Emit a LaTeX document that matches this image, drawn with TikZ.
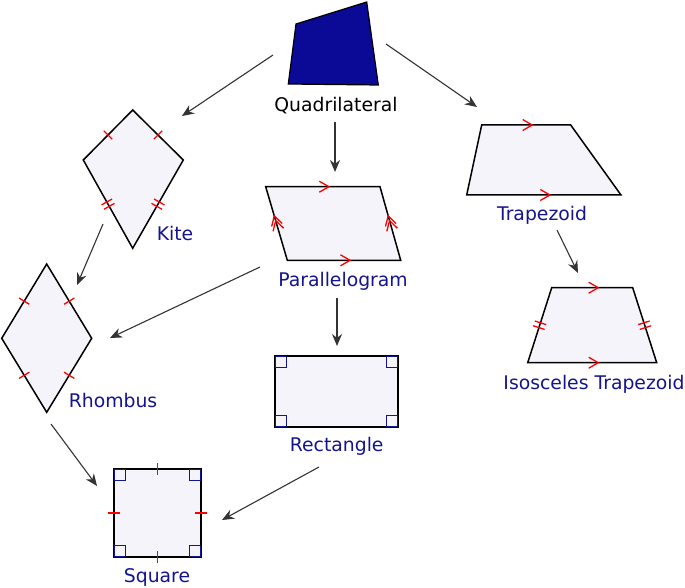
\documentclass[tikz,border=0pt]{standalone}
\usepackage{fontspec}
\setmainfont{DejaVu Sans}
\usetikzlibrary{calc,arrows.meta}

\definecolor{shapefill}{HTML}{F4F4FA}
\definecolor{quadblue}{HTML}{0A0A96}
\definecolor{labelblue}{HTML}{14148F}
\definecolor{arrowgray}{HTML}{333333}

\tikzset{
  shp/.style={draw=black,line width=1.5pt,fill=shapefill},
  lbl/.style={font=\fontsize{18.8}{22}\selectfont,text=labelblue,inner sep=0pt},
  arr/.style={draw=arrowgray,line width=1.1pt,-{Stealth[length=12pt,width=10pt]}},
  mk/.style={draw=red,line width=1.3pt},
  ra/.style={draw=labelblue,line width=1.3pt},
}

% tick marks and parallel marks on the side from #1 to #2
\newcommand{\onetick}[2]{\draw[mk] ($(#1)!0.5!(#2)!6pt!90:(#2)$) -- ($(#1)!0.5!(#2)!6pt!-90:(#2)$);}
\newcommand{\twotick}[2]{%
  \draw[mk] ($(#1)!0.5!(#2)!2.5pt!(#2)!6pt!90:(#2)$) -- ($(#1)!0.5!(#2)!2.5pt!(#2)!6pt!-90:(#2)$);
  \draw[mk] ($(#1)!0.5!(#2)!-2.5pt!(#2)!6pt!90:(#2)$) -- ($(#1)!0.5!(#2)!-2.5pt!(#2)!6pt!-90:(#2)$);}
\newcommand{\onechev}[2]{\draw[mk] ($(#1)!0.5!(#2)!6pt!(#2)!11pt!30:(#1)$) -- ($(#1)!0.5!(#2)!6pt!(#2)$) -- ($(#1)!0.5!(#2)!6pt!(#2)!11pt!-30:(#1)$);}
\newcommand{\twochev}[2]{%
  \draw[mk] ($(#1)!0.5!(#2)!8pt!(#2)!11pt!30:(#1)$) -- ($(#1)!0.5!(#2)!8pt!(#2)$) -- ($(#1)!0.5!(#2)!8pt!(#2)!11pt!-30:(#1)$);
  \draw[mk] ($(#1)!0.5!(#2)!3pt!(#2)!11pt!30:(#1)$) -- ($(#1)!0.5!(#2)!3pt!(#2)$) -- ($(#1)!0.5!(#2)!3pt!(#2)!11pt!-30:(#1)$);}

\begin{document}
\begin{tikzpicture}[x=1pt,y=-1pt]
    \useasboundingbox (0,0) rectangle (685,588);

    % quadrilateral
    \coordinate (q1) at (296,24);
    \coordinate (q2) at (366.7,2);
    \coordinate (q3) at (378.3,85);
    \coordinate (q4) at (288.3,84);
    \draw[shp,fill=quadblue,line width=1.2pt] (q1) -- (q2) -- (q3) -- (q4) -- cycle;
    \node[lbl,text=black] (quad) at (336,105.5) {Quadrilateral};

    % kite
    \coordinate (k1) at (132.7,110);
    \coordinate (k2) at (183.3,160);
    \coordinate (k3) at (132.7,248.3);
    \coordinate (k4) at (83.3,160);
    \draw[shp] (k1) -- (k2) -- (k3) -- (k4) -- cycle;
    \onetick{k1}{k2} \onetick{k4}{k1}
    \twotick{k2}{k3} \twotick{k3}{k4}
    \node[lbl] (kite) at (175,233) {Kite};

    % parallelogram
    \coordinate (p1) at (265.7,186.7);
    \coordinate (p2) at (380,186.7);
    \coordinate (p3) at (400.7,260.3);
    \coordinate (p4) at (287.3,260.3);
    \draw[shp] (p1) -- (p2) -- (p3) -- (p4) -- cycle;
    \onechev{p1}{p2} \onechev{p4}{p3}
    \twochev{p4}{p1} \twochev{p3}{p2}
    \node[lbl] (para) at (343,281.5) {Parallelogram};

    % trapezoid
    \coordinate (t1) at (481.7,125);
    \coordinate (t2) at (570.7,125);
    \coordinate (t3) at (621,195);
    \coordinate (t4) at (466.7,195);
    \draw[shp] (t1) -- (t2) -- (t3) -- (t4) -- cycle;
    \onechev{t1}{t2} \onechev{t4}{t3}
    \node[lbl] (trap) at (542,215) {Trapezoid};

    % isosceles trapezoid
    \coordinate (i1) at (551.7,287.7);
    \coordinate (i2) at (632.7,287.7);
    \coordinate (i3) at (656.7,362.7);
    \coordinate (i4) at (527.7,362.7);
    \draw[shp] (i1) -- (i2) -- (i3) -- (i4) -- cycle;
    \onechev{i1}{i2} \onechev{i4}{i3}
    \twotick{i2}{i3} \twotick{i4}{i1}
    \node[lbl] (iso) at (594,384) {Isosceles Trapezoid};

    % rhombus
    \coordinate (r1) at (46.7,264);
    \coordinate (r2) at (91.7,338.3);
    \coordinate (r3) at (46.7,412.3);
    \coordinate (r4) at (1.7,338.3);
    \draw[shp] (r1) -- (r2) -- (r3) -- (r4) -- cycle;
    \onetick{r1}{r2} \onetick{r2}{r3} \onetick{r3}{r4} \onetick{r4}{r1}
    \node[lbl] (rhomb) at (113,400.5) {Rhombus};

    % rectangle
    \draw[shp] (275,356) rectangle (398,427);
    \draw[ra] (275.5,356.5) rectangle ++(11,11);
    \draw[ra] (397.5,356.5) rectangle ++(-11,11);
    \draw[ra] (275.5,426.5) rectangle ++(11,-11);
    \draw[ra] (397.5,426.5) rectangle ++(-11,-11);
    \node[lbl] (rect) at (336.7,446.5) {Rectangle};

    % square
    \coordinate (s1) at (114,469);
    \coordinate (s2) at (201,469);
    \coordinate (s3) at (201,557);
    \coordinate (s4) at (114,557);
    \draw[shp] (s1) -- (s2) -- (s3) -- (s4) -- cycle;
    \draw[ra] ($(s1)+(0.5,0.5)$) rectangle ++(11,11);
    \draw[ra] ($(s2)+(-0.5,0.5)$) rectangle ++(-11,11);
    \draw[ra] ($(s3)+(-0.5,-0.5)$) rectangle ++(-11,-11);
    \draw[ra] ($(s4)+(0.5,-0.5)$) rectangle ++(11,-11);
    \onetick{s1}{s2} \onetick{s2}{s3} \onetick{s3}{s4} \onetick{s4}{s1}
    \node[lbl] (sq) at (157,577.5) {Square};

    % arrow ends
    \coordinate (qk0) at (273,55);   \coordinate (qk1) at (182,116);
    \coordinate (qt0) at (386,44);   \coordinate (qt1) at (477,107);
    \coordinate (qp0) at (335,122);  \coordinate (qp1) at (335,172);
    \coordinate (kr0) at (103,224);  \coordinate (kr1) at (77,285);
    \coordinate (pr0) at (260,267);  \coordinate (pr1) at (110,338);
    \coordinate (pc0) at (337,298);  \coordinate (pc1) at (337,346);
    \coordinate (ti0) at (557,230);  \coordinate (ti1) at (578,273);
    \coordinate (rs0) at (51,424);   \coordinate (rs1) at (97,486);
    \coordinate (cs0) at (319,467);  \coordinate (cs1) at (222,520);

    \path (qk0) edge[arr] (qk1);
    \path (qt0) edge[arr] (qt1);
    \path (qp0) edge[arr] (qp1);
    \path (kr0) edge[arr] (kr1);
    \path (pr0) edge[arr] (pr1);
    \path (pc0) edge[arr] (pc1);
    \path (ti0) edge[arr] (ti1);
    \path (rs0) edge[arr] (rs1);
    \path (cs0) edge[arr] (cs1);
\end{tikzpicture}
\end{document}
